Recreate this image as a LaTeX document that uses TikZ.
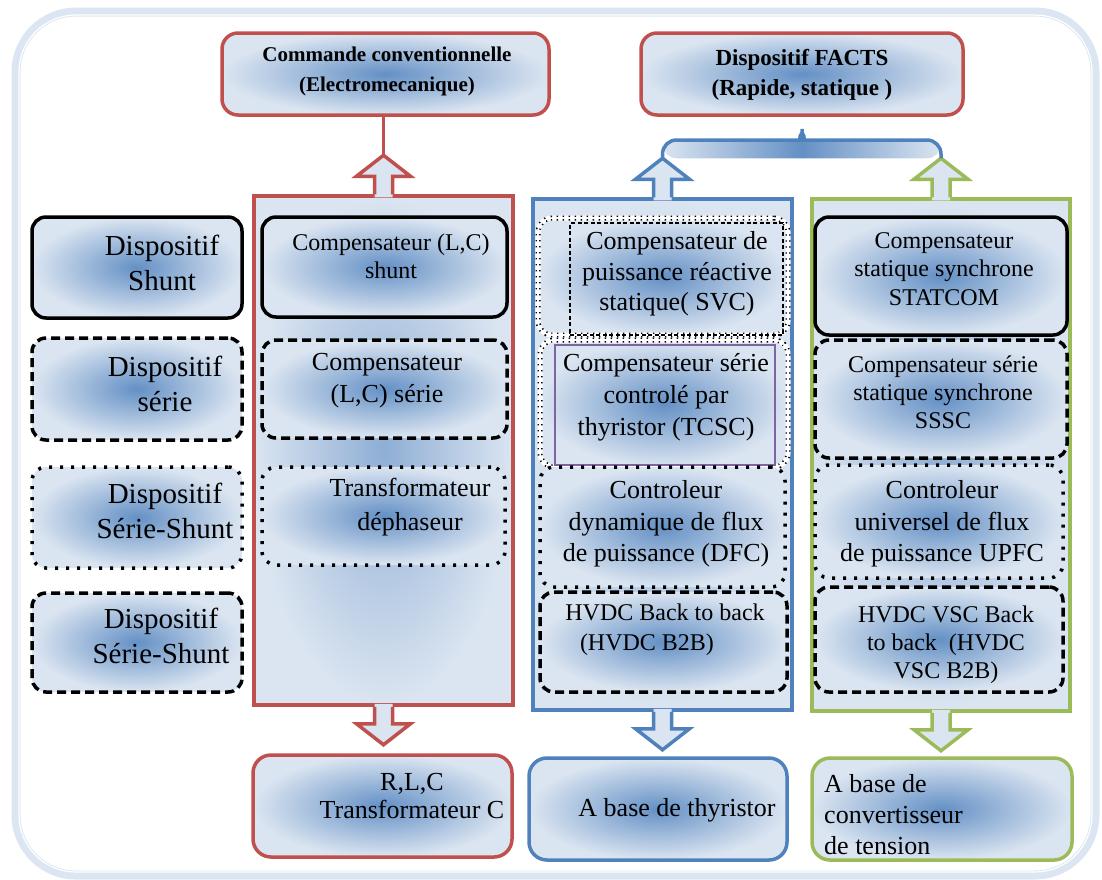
\documentclass[tikz,border=0pt]{standalone}
\usepackage{fontspec}
\setmainfont{Liberation Serif}
\usetikzlibrary{calc}
\definecolor{fillc}{HTML}{DBE5F1}
\definecolor{glowc}{HTML}{4F81BD}
\definecolor{redc}{HTML}{C0504D}
\definecolor{bluec}{HTML}{4F81BD}
\definecolor{greenc}{HTML}{9BBB59}
\definecolor{purplec}{HTML}{8064A2}
\definecolor{framec}{HTML}{DCE6F2}
\newcommand\fs[2]{\fontsize{#1}{#2}\selectfont}
\newcommand\blkup[2]{%
  \fill[fillc] ([xshift=-9pt,yshift=-3pt]#1) -- ++(0,-21) -- ++(-18,0) -- ++(27,-21) -- ++(27,21) -- ++(-18,0) -- ++(0,21) -- cycle;
  \draw[#2, line width=3.5pt, line join=miter] ([xshift=-9pt]#1) -- ++(0,-18) -- ++(-18,0) -- ++(27,-21) -- ++(27,21) -- ++(-18,0) -- ++(0,18);}
\newcommand\blkdown[2]{%
  \fill[fillc] ([xshift=-9pt,yshift=3pt]#1) -- ++(0,20) -- ++(-18,0) -- ++(27,21) -- ++(27,-21) -- ++(-18,0) -- ++(0,-20) -- cycle;
  \draw[#2, line width=3.5pt, line join=miter] ([xshift=-9pt]#1) -- ++(0,17) -- ++(-18,0) -- ++(27,21) -- ++(27,-21) -- ++(-18,0) -- ++(0,-17);}
\tikzset{
  wh/.style 2 args={minimum width=#1pt, minimum height=#2pt},
  shd/.style={inner color=glowc!85!fillc, outer color=fillc},
  shdw/.style={inner color=glowc!55!fillc, outer color=fillc},
  bx/.style={shape=rectangle, rounded corners=14pt, inner sep=0pt, shd},
  solidbx/.style={bx, draw=black, line width=3.5pt},
  dashbx/.style={bx, draw=black, line width=3.5pt, dash pattern=on 9pt off 5pt},
  dotbx/.style={bx, draw=black, line width=3.5pt, dash pattern=on 3pt off 8pt},
  tickbx/.style={bx, draw=white, line width=5pt,
    postaction={draw=black, line width=5pt, dash pattern=on 1.3pt off 4.7pt},
    postaction={draw=white, line width=1.6pt, solid}},
  colbx/.style={shape=rectangle, inner sep=0pt, shdw, line width=3.5pt},
  endbx/.style={bx, rounded corners=18pt, line width=3.5pt},
  txt/.style={inner sep=0pt, align=center, text=black},
}
\begin{document}
\begin{tikzpicture}[x=1pt,y=-1pt]
\useasboundingbox (0,0) rectangle (1102,879);
% outer frame
\draw[framec, line width=9pt, rounded corners=60pt] (16,12) rectangle (1095,875);
\draw[white, line width=1.2pt, rounded corners=57pt] (19,15) rectangle (1092,872);

% top boxes
\node[endbx, draw=redc, rounded corners=16pt, wh={327}{82}] (A) at (385.5,74) {};
\node[endbx, draw=redc, rounded corners=16pt, wh={322}{82}] (B) at (802,74) {};

% columns
\node[colbx, draw=redc, wh={259}{509}] (R) at (383.5,450.5) {};
\node[colbx, draw=bluec, wh={259}{511}] (C) at (662.5,454.5) {};
\node[colbx, draw=greenc, wh={258}{512}] (G) at (941,455) {};

% left legend
\node[solidbx, wh={210}{101}] (L1) at (137,267.5) {};
\node[dashbx, wh={210}{102}] (L2) at (137,389) {};
\node[dotbx, wh={210}{101}] (L3) at (137,517.5) {};
\node[dashbx, wh={210}{99}] (L4) at (137,642.5) {};

% red column boxes
\node[solidbx, wh={245}{100}] (R1) at (384.5,267) {};
\node[dashbx, wh={245}{98}] (R2) at (384.5,389) {};
\node[dotbx, wh={243}{98}] (R3) at (383.5,516) {};

% blue column boxes
\node[tickbx, wh={250}{117}] (C1) at (663,276.5) {};
\node[draw=black, line width=1.2pt, dash pattern=on 4pt off 2.5pt, inner sep=0pt, wh={213}{112}] (C1i) at (676.5,279) {};
\node[tickbx, wh={248}{127}] (C2) at (664,403.5) {};
\node[draw=purplec, line width=1.2pt, inner sep=0pt, wh={220}{120}] (C2i) at (665,405) {};
\node[dotbx, wh={245}{120}] (C3) at (662.5,527) {};
\node[dashbx, wh={247}{100}] (C4) at (663.5,642) {};

% green column boxes
\node[solidbx, wh={252}{118}] (G1) at (941,276) {};
\node[dashbx, wh={252}{118}] (G2) at (941,399) {};
\node[dotbx, wh={248}{113}] (G3) at (939,521.5) {};
\node[dashbx, wh={248}{105}] (G4) at (939,639.5) {};

% bottom boxes
\node[endbx, draw=redc, wh={259}{102}] (RB) at (382.5,806) {};
\node[endbx, draw=bluec, wh={258}{102}] (CB) at (658,809) {};
\node[endbx, draw=greenc, wh={260}{102}] (GB) at (942,809) {};

% arrows
\blkup{R.north}{redc}
\blkup{C.north}{bluec}
\blkup{G.north}{greenc}
\blkdown{R.south}{redc}
\blkdown{C.south}{bluec}
\blkdown{G.south}{greenc}
\draw[redc, line width=3.5pt] (A.south -| R.north) -- ([yshift=39pt]R.north);

% brace
\coordinate (cup) at ([yshift=39pt]C.north);
\coordinate (gup) at ([yshift=39pt]G.north);
\coordinate (bt) at ([yshift=-4pt]B.south);
\coordinate (bl) at (788,140);
\coordinate (br) at (816,140);
\shade[left color=fillc, right color=fillc, middle color=glowc!85!fillc, rounded corners=14pt]
  (cup) |- (bl) .. controls (797,140) and (802,131) .. (bt)
  .. controls (802,131) and (807,140) .. (br) -| (gup) -- cycle;
\draw[bluec, line width=3.5pt, rounded corners=14pt]
  (cup) |- (bl) .. controls (797,140) and (802,131) .. (bt)
  .. controls (802,131) and (807,140) .. (br) -| (gup);

% texts
\node[txt, font=\bfseries\fs{21}{30}] (tA) at (387,71) {Commande conventionnelle\\(Electromecanique)};
\node[txt, font=\bfseries\fs{23}{30}] (tB) at (802,75) {Dispositif FACTS\\(Rapide, statique )};
\node[txt, font=\fs{29}{35}] (tL1) at (162,263) {Dispositif\\Shunt};
\node[txt, font=\fs{29}{35}] (tL2) at (165,384) {Dispositif\\série};
\node[txt, font=\fs{29}{35}] (tL3) at (165,511) {Dispositif\\Série-Shunt};
\node[txt, font=\fs{29}{35}] (tL4) at (161,636) {Dispositif\\Série-Shunt};
\node[txt, font=\fs{24}{28}] (tR1) at (391,256) {Compensateur (L,C)\\shunt};
\node[txt, font=\fs{26}{32}] (tR2) at (387,381) {Compensateur\\(L,C) série};
\node[txt, font=\fs{26}{34}] (tR3) at (410,507) {Transformateur\\déphaseur};
\node[txt, font=\fs{26}{28}] (tRB) at (412,796) {R,L,C\\Transformateur C};
\node[txt, font=\fs{26}{30.5}] (tC1) at (677,274) {Compensateur de\\puissance réactive\\statique( SVC)};
\node[txt, font=\fs{26}{32}] (tC2) at (666,397) {Compensateur série\\controlé par\\thyristor (TCSC)};
\node[txt, font=\fs{26}{31.5}] (tC3) at (666,524) {Controleur\\dynamique de flux\\de puissance (DFC)};
\node[txt, font=\fs{24}{30}] (tC4) at (665,630) {HVDC Back to back\\(HVDC B2B)\rule{36pt}{0pt}};
\node[txt, font=\fs{26}{31}] (tCB) at (677,810) {A base de thyristor};
\node[txt, font=\fs{24}{28.5}] (tG1) at (944,269) {Compensateur\\statique synchrone\\STATCOM};
\node[txt, font=\fs{24}{28}] (tG2) at (943,392) {Compensateur série\\statique synchrone\\SSSC};
\node[txt, font=\fs{26}{31.5}] (tG3) at (942,524) {Controleur\\universel de flux\\de puissance UPFC};
\node[txt, font=\fs{24}{28}] (tG4) at (946,645) {HVDC VSC Back\\to back\ \ (HVDC\\VSC B2B)};
\node[txt, font=\fs{26}{31}, align=left, anchor=west] (tGB) at (824,815) {A base de\\convertisseur\\de tension};
\end{tikzpicture}
\end{document}
